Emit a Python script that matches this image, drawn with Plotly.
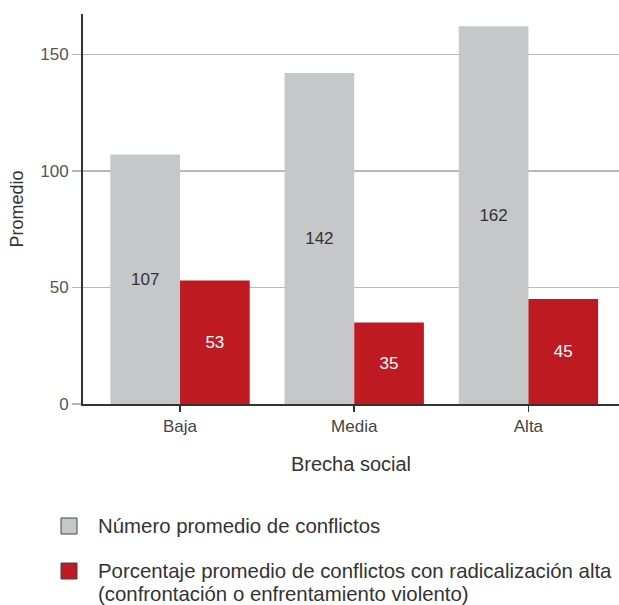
import plotly.graph_objects as go

categories = ["Baja", "Media", "Alta"]
num_conflictos = [107, 142, 162]
pct_radicalizacion = [53, 35, 45]
series_names = [
    "Número promedio de conflictos",
    "Porcentaje promedio de conflictos con radicalización alta",
    "(confrontación o enfrentamiento violento)",
]
y_ticks = [0, 50, 100, 150]

GRAY = "#c6c7c9"
RED = "#be1a21"
TXT = "#333333"
FONT = "Liberation Sans, Arial, sans-serif"

W, H = 619, 605
L, R, T, B = 83, 0, 14, 201

fig = go.Figure()
fig.add_trace(go.Bar(
    x=categories, y=num_conflictos, name=series_names[0],
    marker=dict(color=GRAY, line=dict(width=0)),
    text=[str(v) for v in num_conflictos], textposition="inside",
    insidetextanchor="middle", textangle=0,
    insidetextfont=dict(color=TXT, size=17, family=FONT),
))
fig.add_trace(go.Bar(
    x=categories, y=pct_radicalizacion, name=series_names[1],
    marker=dict(color=RED, line=dict(width=0)),
    text=[str(v) for v in pct_radicalizacion], textposition="inside",
    insidetextanchor="middle", textangle=0,
    insidetextfont=dict(color="white", size=17, family=FONT),
))

pw = W - L - R
ph = H - T - B

def px_x(p):
    return (p - L) / pw

def px_y(p):
    return (H - B - p) / ph

shapes = []
annotations = []
legend_rows = [(518, 534, GRAY), (563, 579, RED)]
for (y0, y1, c) in legend_rows:
    shapes.append(dict(type="rect", xref="paper", yref="paper",
                       x0=px_x(61), x1=px_x(77), y0=px_y(y1), y1=px_y(y0),
                       fillcolor=c, line=dict(color="#444444", width=1)))
text_rows = [(526, series_names[0]), (571, series_names[1]), (593.5, series_names[2])]
for (yc, t) in text_rows:
    annotations.append(dict(xref="paper", yref="paper", x=px_x(96), y=px_y(yc),
                            xanchor="left", yanchor="middle", showarrow=False,
                            text=t, font=dict(size=20.4, color=TXT, family=FONT)))

fig.update_layout(
    width=W, height=H,
    margin=dict(l=L, r=R, t=T, b=B, autoexpand=False),
    paper_bgcolor="white", plot_bgcolor="white",
    barmode="group", bargap=0.2, bargroupgap=0,
    showlegend=False,
    font=dict(family=FONT, color=TXT, size=17),
    shapes=shapes, annotations=annotations,
    uniformtext=dict(mode="show", minsize=10),
)
fig.update_xaxes(
    type="category", range=[-0.557, 2.52],
    showline=True, linecolor="#333333", linewidth=2,
    ticks="outside", ticklen=6, tickwidth=1.5, tickcolor="#333333",
    tickfont=dict(size=17, color="#444444"),
    title=dict(text="Brecha social", font=dict(size=20, color=TXT), standoff=22),
    showgrid=False, automargin=False,
)
fig.update_yaxes(
    range=[0, 167.3], tickvals=y_ticks,
    showline=True, linecolor="#333333", linewidth=2,
    ticks="outside", ticklen=9, tickwidth=1.5, tickcolor="#b5b5b5",
    tickfont=dict(size=17, color="#555555"),
    showgrid=True, gridcolor="#b9b9b9", gridwidth=1.5,
    zeroline=False,
    title=dict(text="Promedio", font=dict(size=18, color=TXT), standoff=12),
    automargin=False,
)

fig.write_html(
    "out.html",
    config={"displayModeBar": False, "staticPlot": True},
    post_script="document.body.style.margin='0';document.body.style.padding='0';document.body.style.overflow='hidden';",
)
